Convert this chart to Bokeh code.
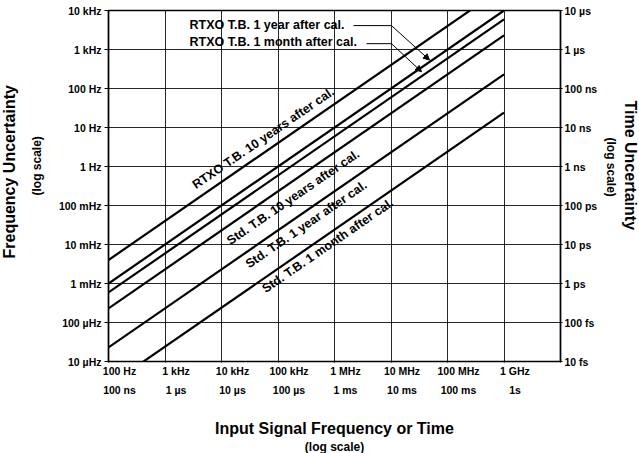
from bokeh.plotting import figure
from bokeh.models import (Range1d, LogAxis, FixedTicker, Label, Title, Arrow, NormalHead)
from bokeh.embed import file_html
from bokeh.resources import INLINE

# ---------------- data ----------------
x_ends = [1e2, 1e9]                       # input signal frequency at the two ends of each line
rtxo_10y = [4.0e-3, 4.0e4]               # frequency uncertainty (Hz) at 100 Hz and at 1 GHz
rtxo_1y = [1.0e-3, 1.0e4]
rtxo_1m = [5.9e-4, 5.9e3]
std_10y = [2.3e-4, 2.3e3]
std_1y = [2.3e-5, 2.3e2]
std_1m = [2.4e-6, 2.4e1]

y_ticks = [1e4, 1e3, 1e2, 1e1, 1e0, 1e-1, 1e-2, 1e-3, 1e-4, 1e-5]
freq_unc_labels = ["10 kHz", "1 kHz", "100 Hz", "10 Hz", "1 Hz", "100 mHz",
                   "10 mHz", "1 mHz", "100 \u00b5Hz", "10 \u00b5Hz"]
time_unc_labels = ["10 \u00b5s", "1 \u00b5s", "100 ns", "10 ns", "1 ns", "100 ps",
                   "10 ps", "1 ps", "100 fs", "10 fs"]

x_ticks = [1e2, 1e3, 1e4, 1e5, 1e6, 1e7, 1e8, 1e9]
x_grid = [1e2, 1e3, 1e4, 1e5, 1e6, 1e7, 1e8, 1e9, 1e10]
freq_labels = ["100 Hz", "1 kHz", "10 kHz", "100 kHz", "1 MHz", "10 MHz", "100 MHz", "1 GHz"]
time_labels = ["100 ns", "1 \u00b5s", "10 \u00b5s", "100 \u00b5s", "1 ms", "10 ms", "100 ms", "1s"]

FONT = "Liberation Sans"
FRAME_W, FRAME_H = 452, 351
X0, X1 = 1e2, 1e10

p = figure(frame_width=FRAME_W, frame_height=FRAME_H,
           min_border_left=107, min_border_right=80, min_border_top=10, min_border_bottom=92,
           x_axis_type="log", y_axis_type="log",
           x_range=Range1d(X0, X1), y_range=Range1d(1e-5, 1e4),
           output_backend="svg", toolbar_location=None)
p.background_fill_color = "white"
p.border_fill_color = "white"
p.outline_line_color = "black"
p.outline_line_width = 1.6


def style_axis(ax, out, stand, size="10.5px"):
    ax.axis_line_color = "black"
    ax.axis_line_width = 1.2
    ax.major_tick_line_color = "black"
    ax.major_tick_line_width = 1.2
    ax.major_tick_out = out
    ax.major_tick_in = 0
    ax.minor_tick_line_color = None
    ax.major_label_standoff = stand
    ax.major_label_text_font = FONT
    ax.major_label_text_font_style = "bold"
    ax.major_label_text_font_size = size
    ax.major_label_text_color = "black"


# left axis: frequency uncertainty
la = p.yaxis[0]
la.ticker = FixedTicker(ticks=y_ticks, minor_ticks=[])
la.major_label_overrides = {t: s for t, s in zip(y_ticks, freq_unc_labels)}
style_axis(la, 4, 3)

# right axis: time uncertainty
ra = LogAxis(ticker=FixedTicker(ticks=y_ticks, minor_ticks=[]),
             major_label_overrides={t: s for t, s in zip(y_ticks, time_unc_labels)})
style_axis(ra, 2, 2)
p.add_layout(ra, "right")

# bottom axis: only tick marks
ba = p.xaxis[0]
ba.ticker = FixedTicker(ticks=x_grid, minor_ticks=[])
style_axis(ba, 1, 0, "1px")
ba.major_label_text_color = None

# bottom tick labels sit just right of their grid line (left aligned look)
SHIFT_PX = 11
f = 10 ** (SHIFT_PX / (FRAME_W / 8))
p.extra_x_ranges = {"shift": Range1d(X0 / f, X1 / f)}
fa = LogAxis(x_range_name="shift", ticker=FixedTicker(ticks=x_ticks, minor_ticks=[]),
             major_label_overrides={t: s for t, s in zip(x_ticks, freq_labels)})
style_axis(fa, 0, 2)
fa.axis_line_color = None
fa.major_tick_line_color = None
p.add_layout(fa, "below")
ta = LogAxis(x_range_name="shift", ticker=FixedTicker(ticks=x_ticks, minor_ticks=[]),
             major_label_overrides={t: s for t, s in zip(x_ticks, time_labels)})
style_axis(ta, 0, 4)
ta.axis_line_color = None
ta.major_tick_line_color = None
ta.axis_label = "Input Signal Frequency or Time"
ta.axis_label_standoff = 21
ta.axis_label_text_font = FONT
ta.axis_label_text_font_style = "bold"
ta.axis_label_text_font_size = "16px"
ta.axis_label_text_color = "black"
p.add_layout(ta, "below")

p.grid.grid_line_color = "black"
p.grid.grid_line_alpha = 0.85
p.grid.grid_line_width = 1
p.xgrid.ticker = FixedTicker(ticks=x_grid)
p.ygrid.ticker = FixedTicker(ticks=y_ticks)

for ys in (rtxo_10y, rtxo_1y, rtxo_1m, std_10y, std_1y, std_1m):
    p.line(x_ends, ys, line_color="black", line_width=2.2)

# labels along the lines
ANG = 34.5
for txt, lx, ly in (("RTXO T.B. 10 years after cal.", 5.5e4, 5.3),
                    ("Std. T.B. 10 years after cal.", 1.86e5, 0.162),
                    ("Std. T.B. 1 year after cal.", 3.16e5, 0.0324),
                    ("Std. T.B. 1 month after cal.", 7.6e5, 0.0093)):
    p.add_layout(Label(x=lx, y=ly, text=txt, angle=ANG, angle_units="deg",
                       text_align="center", text_baseline="middle",
                       text_font=FONT, text_font_style="bold", text_font_size="12.5px",
                       text_color="black"))

# call-outs for the two close RTXO lines
for txt, ly in (("RTXO T.B. 1 year after cal.", 4.35e3), ("RTXO T.B. 1 month after cal.", 1.59e3)):
    p.add_layout(Label(x=2.72e3, y=ly, text=txt, text_align="left", text_baseline="middle",
                       text_font=FONT, text_font_style="bold", text_font_size="12.5px",
                       text_color="black"))
for (x0, x1, yh, xt, yt) in ((2.17e6, 1.02e7, 4.1e3, 4.8e7, 537.0),
                             (3.68e6, 1.02e7, 1.41e3, 3.47e7, 269.0)):
    p.add_layout(Arrow(end=None, x_start=x0, y_start=yh, x_end=x1, y_end=yh,
                       line_color="black", line_width=1))
    p.add_layout(Arrow(end=NormalHead(size=6, fill_color="black", line_color="black"),
                       x_start=x1, y_start=yh, x_end=xt, y_end=yt,
                       line_color="black", line_width=1))


# side titles
def side_title(txt, side, size, offset, standoff, valign, align="left"):
    p.add_layout(Title(text=txt, align=align, offset=offset, standoff=standoff,
                       vertical_align=valign, text_font=FONT, text_font_style="bold",
                       text_font_size=size, text_color="black"), side)


side_title("(log scale)", "left", "12px", 166, 20, "top")
side_title("Frequency Uncertainty", "left", "16px", 103, 0, "top")
side_title("(log scale)", "right", "12px", 127, 3, "top")
side_title("Time Uncertainty", "right", "16px", 90, 0, "top")
side_title("(log scale)", "below", "12px", 0, 0, "top", align="center")

open("out.html", "w").write(file_html(p, INLINE))
